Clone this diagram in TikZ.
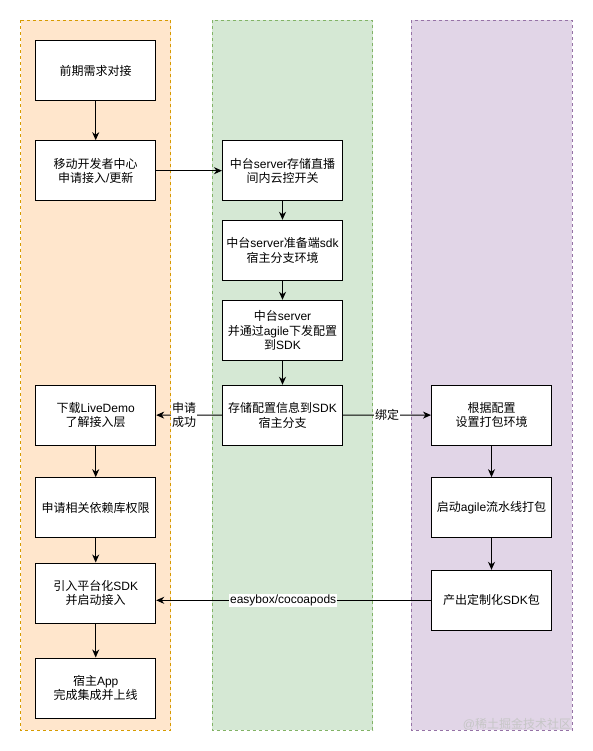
\documentclass[tikz,border=0pt]{standalone}
\usepackage{fontspec}
\setmainfont{Noto Sans CJK SC}
\newfontfamily\latinfont{Liberation Sans}
\newcommand{\latn}[1]{{\latinfont #1}}
\usetikzlibrary{arrows.meta}
\definecolor{orangefill}{HTML}{FFE6CC}
\definecolor{orangeline}{HTML}{D79B00}
\definecolor{greenfill}{HTML}{D5E8D4}
\definecolor{greenline}{HTML}{82B366}
\definecolor{purplefill}{HTML}{E1D5E7}
\definecolor{purpleline}{HTML}{9673A6}
\tikzset{
  lane/.style={dashed, dash pattern=on 3pt off 3pt, line width=0.8pt},
  box/.style={draw, fill=white, line width=1pt, minimum width=120pt, minimum height=60pt, align=center, inner sep=2pt},
  arr/.style={-{Stealth[length=8pt, width=7pt, inset=2.5pt]}, line width=1pt},
  tag/.style={fill=white, inner sep=1pt, align=center}
}
\begin{document}
\begin{tikzpicture}[x=1pt, y=-1pt, font=\fontsize{12}{14.5}\selectfont]
\useasboundingbox (0,0) rectangle (592,751);

% swim lanes
\draw[lane, draw=orangeline, fill=orangefill] (20.5,20.5) rectangle (170.5,730);
\draw[lane, draw=greenline, fill=greenfill] (212,20.5) rectangle (372.5,730);
\draw[lane, draw=purpleline, fill=purplefill] (411,20.5) rectangle (572,730);

% left column
\node[box] (demand) at (95.7,70.7) {前期需求对接};
\node[box] (apply) at (95.7,170.7) {移动开发者中心\\申请接入\latn{/}更新};
\node[box] (demo) at (95.7,415) {下载\latn{LiveDemo}\\了解接入层};
\node[box] (perm) at (95.7,507.7) {申请相关依赖库权限};
\node[box] (import) at (95.7,593) {引入平台化\latn{SDK}\\并启动接入};
\node[box] (online) at (95.7,688) {宿主\latn{App}\\完成集成并上线};

% middle column
\node[box] (store) at (282.5,170.7) {中台\latn{server}存储直播\\间内云控开关};
\node[box] (prepare) at (282.5,250.3) {中台\latn{server}准备端\latn{sdk}\\宿主分支环境};
\node[box] (deliver) at (282.5,330.3) {中台\latn{server}\\并通过\latn{agile}下发配置\\到\latn{SDK}};
\node[box] (save) at (282.5,415.3) {存储配置信息到\latn{SDK}\\宿主分支};

% right column
\node[box] (env) at (491.5,415) {根据配置\\设置打包环境};
\node[box] (build) at (491.5,507.7) {启动\latn{agile}流水线打包};
\node[box] (pkg) at (491.5,600.3) {产出定制化\latn{SDK}包};

% arrows
\draw[arr] (demand) -- (apply);
\draw[arr] (apply) -- (store);
\draw[arr] (store) -- (prepare);
\draw[arr] (prepare) -- (deliver);
\draw[arr] (deliver) -- (save);
\draw[arr] (save) -- node[tag, pos=0.575] {申请\\成功} (demo);
\draw[arr] (save) -- node[tag] {绑定} (env);
\draw[arr] (demo) -- (perm);
\draw[arr] (perm) -- (import);
\draw[arr] (import) -- (online);
\draw[arr] (env) -- (build);
\draw[arr] (build) -- (pkg);
\draw[arr] (pkg.west) -- node[tag, pos=0.538] {\latn{easybox/cocoapods}} (pkg.west -| import.east);

% watermark
\node[text=gray!45, inner sep=0pt] (mark) at (517,724) {\latn{@}稀土掘金技术社区};
\end{tikzpicture}
\end{document}
